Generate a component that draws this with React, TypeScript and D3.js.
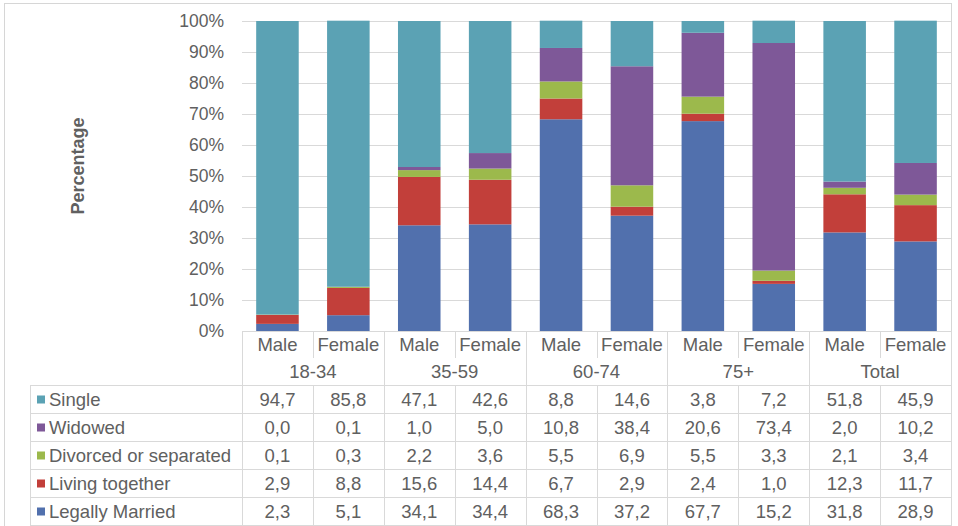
import React from "react";
import * as d3 from "d3";

const groups = ["18-34", "35-59", "60-74", "75+", "Total"];
const sexes = ["Male", "Female"];
const seriesNames = ["Legally Married", "Living together", "Divorced or separated", "Widowed", "Single"];
const legallyMarried = [2.3, 5.1, 34.1, 34.4, 68.3, 37.2, 67.7, 15.2, 31.8, 28.9];
const livingTogether = [2.9, 8.8, 15.6, 14.4, 6.7, 2.9, 2.4, 1.0, 12.3, 11.7];
const divorced = [0.1, 0.3, 2.2, 3.6, 5.5, 6.9, 5.5, 3.3, 2.1, 3.4];
const widowed = [0.0, 0.1, 1.0, 5.0, 10.8, 38.4, 20.6, 73.4, 2.0, 10.2];
const single = [94.7, 85.8, 47.1, 42.6, 8.8, 14.6, 3.8, 7.2, 51.8, 45.9];
const seriesValues = [legallyMarried, livingTogether, divorced, widowed, single];
const colors = ["#5170ad", "#c23f3a", "#9cb94c", "#7e5898", "#5ba2b4"];
const yTicks = [0, 10, 20, 30, 40, 50, 60, 70, 80, 90, 100];
const tableOrder = [4, 3, 2, 1, 0];

export default function App() {
  const W = 958, H = 526;
  const left = 242, right = 951, top = 21, bottom = 331;
  const cats = groups.flatMap((g) => sexes.map((s) => g + "|" + s));
  const x = d3.scaleBand<string>().domain(cats).range([left, right]).paddingInner(0.4).paddingOuter(0.2);
  const colX = d3.scaleBand<string>().domain(cats).range([left, right]);
  const y = d3.scaleLinear().domain([0, 100]).range([bottom, top]);
  const rows = cats.map((c, i) => {
    const r: any = { key: c };
    seriesNames.forEach((s, k) => (r[s] = seriesValues[k][i]));
    return r;
  });
  const stacked = d3.stack().keys(seriesNames)(rows);
  const colW = colX.bandwidth();
  const gridColor = "#d9d9d9";
  const textColor = "#606060";
  const font = "Liberation Sans, Arial, sans-serif";
  const headerY1 = 331, headerY2 = 358, headerY3 = 385;
  const rowH = 28;
  const rowTops = tableOrder.map((_, i) => headerY3 + i * rowH);
  const tableLeft = 30;
  const fs = 18.5;

  return (
    <svg width={W} height={H} style={{ position: "absolute", left: 0, top: 0, background: "#fff" }} fontFamily={font}>
      <rect x={4.5} y={3.5} width={947} height={530} fill="#fff" stroke="#d6d6d6" />
      {yTicks.map((t) => (
        <g key={t}>
          {t > 0 && <line x1={left} x2={right} y1={Math.round(y(t)) + 0.5} y2={Math.round(y(t)) + 0.5} stroke={gridColor} />}
          <text x={224} y={y(t)} dy="0.36em" textAnchor="end" fontSize={17.5} fill={textColor}>{t}%</text>
        </g>
      ))}
      <text transform={`translate(84,166) rotate(-90)`} textAnchor="middle" fontSize={18} fontWeight="bold" fill={textColor}>Percentage</text>
      {stacked.map((layer, k) => (
        <g key={layer.key} fill={colors[k]}>
          {layer.map((d, i) => (
            <rect key={i} x={x(cats[i])} width={x.bandwidth()} y={y(d[1])} height={Math.max(0, y(d[0]) - y(d[1]))} />
          ))}
        </g>
      ))}
      <g stroke={gridColor} strokeWidth={1}>
        <line x1={left} x2={right} y1={headerY1 + 0.5} y2={headerY1 + 0.5} />
        {[0, 1, 2, 3, 4, 5].map((i) => (
          <line key={"h" + i} x1={tableLeft} x2={right} y1={headerY3 + i * rowH + 0.5} y2={headerY3 + i * rowH + 0.5} />
        ))}
        <line x1={tableLeft + 0.5} x2={tableLeft + 0.5} y1={headerY3} y2={H} />
        {cats.map((c, i) => {
          const xx = Math.round(colX(c)!) + 0.5;
          if (i % 2 === 0) return <line key={"v" + i} x1={xx} x2={xx} y1={headerY1} y2={H} />;
          return (
            <g key={"v" + i}>
              <line x1={xx} x2={xx} y1={headerY1} y2={headerY2} />
              <line x1={xx} x2={xx} y1={headerY3} y2={H} />
            </g>
          );
        })}
        <line x1={right + 0.5} x2={right + 0.5} y1={headerY1} y2={H} />
      </g>
      {cats.map((c, i) => (
        <text key={"s" + i} x={colX(c)! + colW / 2} y={headerY1 + 20} textAnchor="middle" fontSize={fs} fill={textColor}>{sexes[i % 2]}</text>
      ))}
      {groups.map((g, gi) => (
        <text key={g} x={colX(cats[gi * 2])! + colW} y={headerY2 + 20} textAnchor="middle" fontSize={fs} fill={textColor}>{g}</text>
      ))}
      {tableOrder.map((k, ri) => (
        <g key={seriesNames[k]}>
          <rect x={37} y={rowTops[ri] + rowH / 2 - 3.5} width={8} height={8} fill={colors[k]} />
          <text x={49} y={rowTops[ri] + rowH / 2 + 6.5} fontSize={fs} fill={textColor}>{seriesNames[k]}</text>
          {cats.map((c, i) => (
            <text key={i} x={colX(c)! + colW / 2} y={rowTops[ri] + rowH / 2 + 6.5} textAnchor="middle" fontSize={fs} fill={textColor}>
              {seriesValues[k][i].toFixed(1).replace(".", ",")}
            </text>
          ))}
        </g>
      ))}
    </svg>
  );
}
